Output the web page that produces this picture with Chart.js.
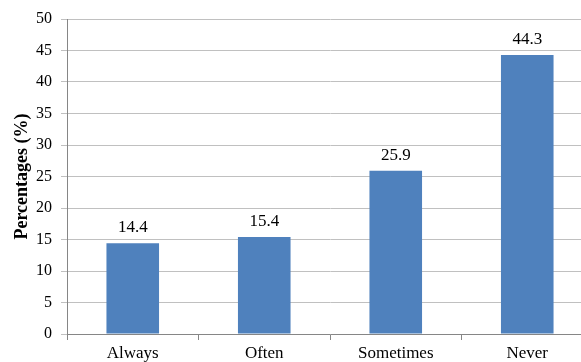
<!DOCTYPE html>
<html>
<head>
<meta charset="utf-8">
<script src="https://cdn.jsdelivr.net/npm/chart.js@4"></script>
<style>
  html, body { margin: 0; padding: 0; background: #fff; overflow: hidden; }
  #wrap { position: relative; width: 594px; height: 362px; }
</style>
</head>
<body>
<div id="wrap"><canvas id="c"></canvas></div>
<script>
const categories = ['Always', 'Often', 'Sometimes', 'Never'];
const percentages = [14.4, 15.4, 25.9, 44.3];
const yTicks = [0, 5, 10, 15, 20, 25, 30, 35, 40, 45, 50];

const FONT = "'Liberation Serif', 'Times New Roman', serif";

// Writes each bar's value just above it
const valueLabels = {
  id: 'valueLabels',
  afterDatasetsDraw(chart) {
    const ctx = chart.ctx;
    const meta = chart.getDatasetMeta(0);
    ctx.save();
    ctx.font = '17px ' + FONT;
    ctx.fillStyle = '#000';
    ctx.textAlign = 'center';
    ctx.textBaseline = 'alphabetic';
    meta.data.forEach((bar, i) => {
      ctx.fillText(percentages[i].toFixed(1), bar.x, bar.y - 11);
    });
    ctx.restore();
  }
};

new Chart(document.getElementById('c'), {
  type: 'bar',
  data: {
    labels: categories,
    datasets: [{
      data: percentages,
      backgroundColor: '#4F81BD',
      borderWidth: 0,
      categoryPercentage: 1,
      barPercentage: 0.4
    }]
  },
  options: {
    responsive: true,
    maintainAspectRatio: false,
    animation: false,
    devicePixelRatio: 1,
    layout: { padding: { top: 19, right: 1, left: 0, bottom: 0 } },
    plugins: { legend: { display: false }, tooltip: { enabled: false } },
    scales: {
      x: {
        grid: { offset: true, drawOnChartArea: false, drawTicks: true, tickLength: 6, color: '#868686' },
        border: { color: '#868686', width: 1 },
        ticks: { color: '#000', font: { family: FONT, size: 17 }, padding: 3 },
        afterFit(scale) { scale.height = 28; }
      },
      y: {
        min: 0, max: 50,
        afterBuildTicks(scale) { scale.ticks = yTicks.map(v => ({ value: v })); },
        grid: { color: '#c0c0c0', tickLength: 6 },
        border: { color: '#868686', width: 1 },
        ticks: { color: '#000', font: { family: FONT, size: 16 }, padding: 9 },
        title: {
          display: true,
          text: 'Percentages (%)',
          color: '#000',
          font: { family: FONT, size: 18, weight: 'bold' },
          padding: { top: 12, bottom: 0 }
        },
        afterFit(scale) { scale.width = 67; }
      }
    }
  },
  plugins: [valueLabels]
});
</script>
</body>
</html>
